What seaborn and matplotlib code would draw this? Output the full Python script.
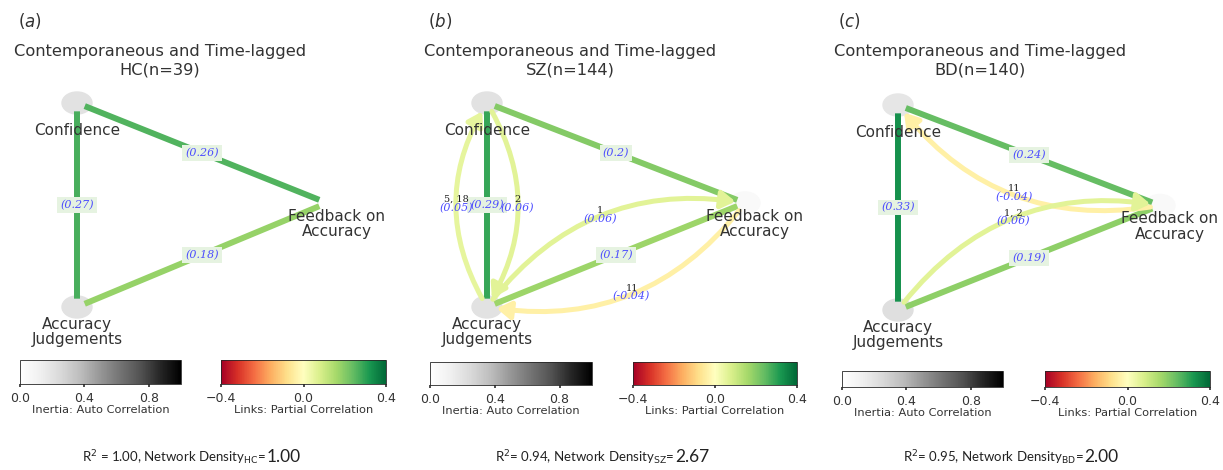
import numpy as np
import matplotlib
matplotlib.use("Agg")
import matplotlib.pyplot as plt
import seaborn as sns
from matplotlib.patches import Ellipse, FancyArrowPatch
from matplotlib.colors import Normalize
from matplotlib.cm import ScalarMappable

sns.set_theme(style="white")
plt.rcParams["font.family"] = ["DejaVu Sans"]

# ---- data ----
node_names = ["Confidence", "Accuracy\nJudgements", "Feedback on\nAccuracy"]
panel_tags = ["a", "b", "c"]
groups = ["HC", "SZ", "BD"]
group_n = [39, 144, 140]
r2_vals = [1.00, 0.94, 0.95]
density_vals = [1.00, 2.67, 2.00]

# node auto correlation (inertia): Confidence, Accuracy Judgements, Feedback
inertia_hc = [0.20, 0.20, 0.00]
inertia_sz = [0.20, 0.20, 0.05]
inertia_bd = [0.18, 0.22, 0.05]

# contemporaneous links: (node i, node j, partial correlation)
contemp_hc = [(0, 1, 0.27), (0, 2, 0.26), (1, 2, 0.18)]
contemp_sz = [(0, 1, 0.29), (0, 2, 0.2), (1, 2, 0.17)]
contemp_bd = [(0, 1, 0.33), (0, 2, 0.24), (1, 2, 0.19)]

# time-lagged links: (source, target, lags, partial correlation)
lagged_hc = []
lagged_sz = [(1, 0, "5, 18", 0.05), (0, 1, "2", 0.06), (1, 2, "1", 0.06), (2, 1, "11", -0.04)]
lagged_bd = [(2, 0, "11", -0.04), (1, 2, "1, 2", 0.06)]

inertia = [inertia_hc, inertia_sz, inertia_bd]
contemp = [contemp_hc, contemp_sz, contemp_bd]
lagged = [lagged_hc, lagged_sz, lagged_bd]

# ---- layout ----
W, H = 1223, 470
fig = plt.figure(figsize=(W / 100, H / 100), dpi=100)
fig.patch.set_facecolor("white")

def px_box(x0, y0, x1, y1):
    # pixel box (origin top-left) -> figure rect
    return [x0 / W, 1 - y1 / H, (x1 - x0) / W, (y1 - y0) / H]

node_xy = [(0.0, 1.0), (0.0, 0.0), (1.0, 0.51)]
# left node x, width to right node, top node y, bottom node y (pixels)
frames = [(77, 250, 103, 307), (487, 258, 103, 307), (898, 262, 105, 310)]
title_x = [160, 570, 980]
tag_x = [18, 428, 838]
grey_bar = [(20, 360, 181, 384), (430, 362, 592, 385), (842, 371, 1003, 387)]
link_bar = [(221, 360, 386, 384), (633, 362, 797, 385), (1045, 371, 1210, 387)]
foot_x = [82, 495, 903]

cmap_links = sns.color_palette("RdYlGn", as_cmap=True)
cmap_nodes = sns.color_palette("Greys", as_cmap=True)
link_norm = Normalize(-0.4, 0.4)
node_norm = Normalize(0, 1)

txt_col = "#333333"
val_col = "#4b4bff"
rad = -0.3

for k in range(3):
    xl, wid, yt, yb = frames[k]
    hgt = yb - yt
    ax = fig.add_axes(px_box(xl - 70, yt - 30, xl + wid + 90, yb + 50))
    ax.set_xlim(-70 / wid, 1 + 90 / wid)
    ax.set_ylim(-50 / hgt, 1 + 30 / hgt)
    ax.axis("off")

    # nodes
    for i, (x, y) in enumerate(node_xy):
        ax.add_patch(Ellipse((x, y), 30 / wid, 22 / hgt,
                             color=cmap_nodes(node_norm(inertia[k][i])), zorder=1))
    ax.annotate(node_names[0], node_xy[0], xytext=(0, -20), textcoords="offset points",
                ha="center", va="center", fontsize=11, color=txt_col, zorder=5)
    ax.annotate(node_names[1], node_xy[1], xytext=(0, -7), textcoords="offset points",
                ha="center", va="top", fontsize=11, color=txt_col, zorder=5,
                linespacing=1.05)
    ax.annotate(node_names[2], node_xy[2], xytext=(7, -4), textcoords="offset points",
                ha="center", va="top", fontsize=11, color=txt_col, zorder=5,
                linespacing=1.05)

    # contemporaneous links
    for i, j, v in contemp[k]:
        col = cmap_links(link_norm(v))
        ax.add_patch(FancyArrowPatch(node_xy[i], node_xy[j], arrowstyle="-",
                                     color=col, lw=4.3, shrinkA=6, shrinkB=6,
                                     capstyle="butt", zorder=2))
        mx = (node_xy[i][0] + node_xy[j][0]) / 2
        my = (node_xy[i][1] + node_xy[j][1]) / 2
        ax.text(mx, my, f"({v:g})", ha="center", va="center", fontsize=8,
                family="DejaVu Serif", style="italic", color=val_col, zorder=4,
                bbox=dict(boxstyle="square,pad=0.25", fc="#e6f3e1", ec="none"))

    # time-lagged links
    for s, t, lags, v in lagged[k]:
        col = cmap_links(link_norm(v))
        ax.add_patch(FancyArrowPatch(node_xy[s], node_xy[t],
                                     connectionstyle=f"arc3,rad={rad}",
                                     arrowstyle="-|>,head_length=0.55,head_width=0.35",
                                     mutation_scale=15, color=col, lw=3.6,
                                     shrinkA=7, shrinkB=7, zorder=2))
        p1 = ax.transData.transform(node_xy[s])
        p2 = ax.transData.transform(node_xy[t])
        d = p2 - p1
        c = (p1 + p2) / 2 + rad * np.array([d[1], -d[0]])
        m = ax.transData.inverted().transform(0.25 * p1 + 0.5 * c + 0.25 * p2)
        ax.annotate(lags, m, xytext=(0, 4), textcoords="offset points", ha="center",
                    va="center", fontsize=7, family="DejaVu Serif", color="#222222",
                    zorder=4)
        ax.annotate(f"({v:g})", m, xytext=(0, -2), textcoords="offset points",
                    ha="center", va="center", fontsize=8, family="DejaVu Serif",
                    style="italic", color=val_col, zorder=4)

    # titles
    fig.text(tag_x[k] / W, 1 - 21 / H, f"($\\it{{{panel_tags[k]}}}$)", ha="left",
             va="center", fontsize=12, color=txt_col)
    fig.text(title_x[k] / W, 1 - 61 / H,
             f"Contemporaneous and Time-lagged\n{groups[k]}(n={group_n[k]})",
             ha="center", va="center", fontsize=11.7, color=txt_col, linespacing=1.3)

    # colorbars
    cax = fig.add_axes(px_box(*grey_bar[k]))
    cb = fig.colorbar(ScalarMappable(norm=node_norm, cmap=cmap_nodes), cax=cax,
                      orientation="horizontal", ticks=[0, 0.4, 0.8])
    cb.set_label("Inertia: Auto Correlation", fontsize=8.2, labelpad=0, color=txt_col)
    cb.ax.tick_params(labelsize=9, length=2, pad=4, colors=txt_col)
    cb.outline.set_linewidth(0.6)

    cax2 = fig.add_axes(px_box(*link_bar[k]))
    cb2 = fig.colorbar(ScalarMappable(norm=link_norm, cmap=cmap_links), cax=cax2,
                       orientation="horizontal", ticks=[-0.4, 0.0, 0.4])
    cb2.set_label("Links: Partial Correlation", fontsize=8.2, labelpad=0, color=txt_col)
    cb2.ax.tick_params(labelsize=9, length=2, pad=4, colors=txt_col)
    cb2.outline.set_linewidth(0.6)

    # footer
    eq = " = " if k == 0 else "= "
    t1 = fig.text(foot_x[k] / W, 1 - 462 / H,
                  f"R$^2${eq}{r2_vals[k]:.2f}, Network Density$_{{\\mathrm{{{groups[k]}}}}}$= ",
                  ha="left", va="baseline", fontsize=9.5, family="Lato", color="#222222")
    bb = t1.get_window_extent(fig.canvas.get_renderer())
    fig.text(bb.x1 / W, 1 - 462 / H, f"{density_vals[k]:.2f}", ha="left",
             va="baseline", fontsize=12.5, family="Lato", color="#222222")

fig.savefig("out.png", dpi=100)
